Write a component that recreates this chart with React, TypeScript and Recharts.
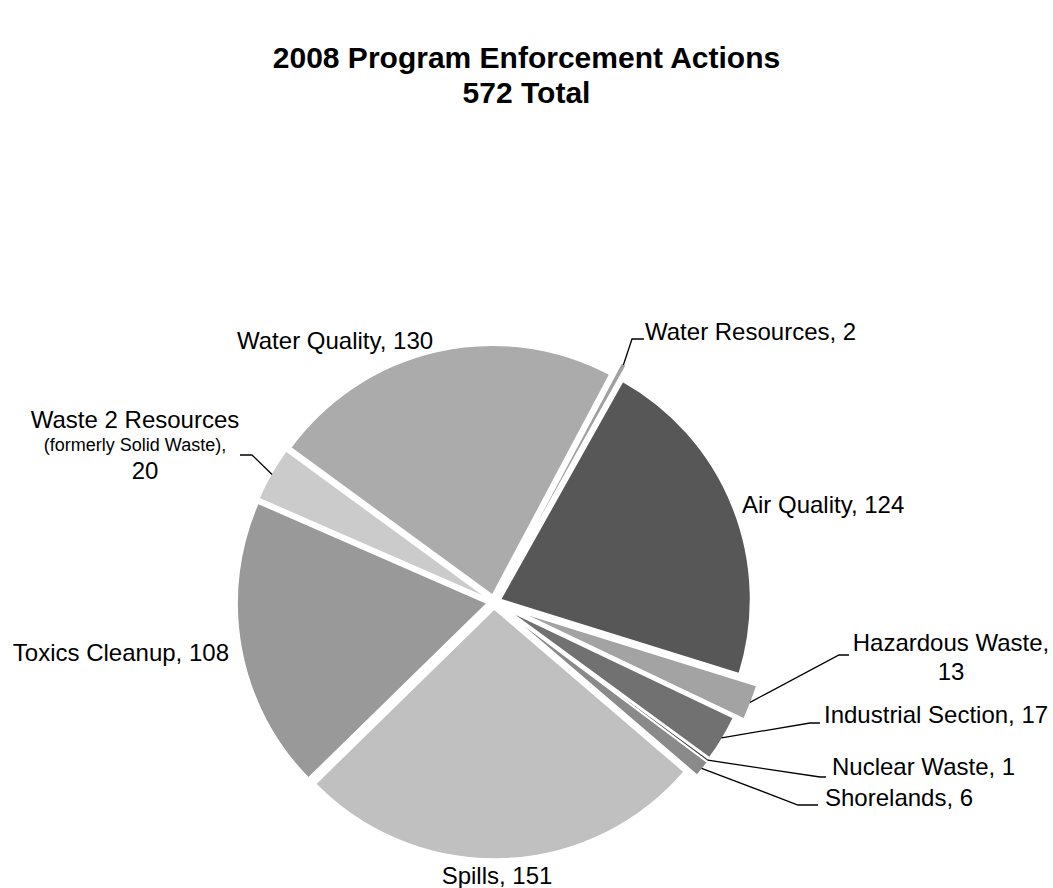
import React from 'react'
import { PieChart, Pie, Cell, Sector } from 'recharts'

const categories = [
  'Water Resources',
  'Air Quality',
  'Hazardous Waste',
  'Industrial Section',
  'Nuclear Waste',
  'Shorelands',
  'Spills',
  'Toxics Cleanup',
  'Waste 2 Resources',
  'Water Quality',
]
const actions = [2, 124, 13, 17, 1, 6, 151, 108, 20, 130]

const fills = ['#a0a0a0', '#575757', '#a3a3a3', '#717171', '#3c3c3c', '#8a8a8a', '#c0c0c0', '#999999', '#cbcbcb', '#ababab']
// how far each slice is pulled out of the pie
const explode = [21, 7, 26, 16, 17, 17, 7, 7, 7, 7]

const CX = 489
const CY = 597
const R = 250
const FONT = '"Liberation Sans", Arial, sans-serif'
const LABEL_SIZE = 24

type Line = { text: string; size?: number; dy?: number; dx?: number }
type LabelSpot = {
  lines: Line[]
  x: number // relative to pie centre
  y: number // baseline of first line
  anchor: 'start' | 'middle' | 'end'
  leader?: [number, number][]
}

// label placement, relative to the pie centre
const labelSpots: LabelSpot[] = [
  { lines: [{ text: 'Water Resources, 2' }], x: 151, y: -262, anchor: 'start', leader: [[138, -263], [150, -263]] },
  { lines: [{ text: 'Air Quality, 124' }], x: 248, y: -89, anchor: 'start' },
  {
    lines: [{ text: 'Hazardous Waste,' }, { text: '13', dy: 29 }],
    x: 457, y: 49, anchor: 'middle',
    leader: [[345, 53], [355, 53]],
  },
  { lines: [{ text: 'Industrial Section, 17' }], x: 330, y: 121, anchor: 'start', leader: [[316, 121], [326, 121]] },
  { lines: [{ text: 'Nuclear Waste, 1' }], x: 338, y: 173, anchor: 'start', leader: [[326, 175], [332, 175]] },
  { lines: [{ text: 'Shorelands, 6' }], x: 331, y: 204, anchor: 'start', leader: [[304, 203], [324, 203]] },
  { lines: [{ text: 'Spills, 151' }], x: 3, y: 282, anchor: 'middle' },
  { lines: [{ text: 'Toxics Cleanup, 108' }], x: -265, y: 59, anchor: 'end' },
  {
    lines: [
      { text: 'Waste 2 Resources' },
      { text: '(formerly Solid Waste),', size: 18, dy: 23 },
      { text: '20', dy: 28, dx: 10 },
    ],
    x: -359, y: -174, anchor: 'middle',
    leader: [[-242, -147], [-254, -147]],
  },
  { lines: [{ text: 'Water Quality, 130' }], x: -257, y: -253, anchor: 'start' },
]

const data = categories.map((name, i) => ({ name, value: actions[i] }))

const RAD = Math.PI / 180

function ExplodedSlice(props: any) {
  const i = categories.indexOf(props.name)
  const off = explode[i] ?? 0
  const dx = off * Math.cos(props.midAngle * RAD)
  const dy = -off * Math.sin(props.midAngle * RAD)
  return <Sector {...props} cx={props.cx + dx} cy={props.cy + dy} />
}

function renderLabel(props: any) {
  const { cx, cy, midAngle, outerRadius, name } = props
  const i = categories.indexOf(name)
  const spot = labelSpots[i]
  if (!spot) return null
  const rr = outerRadius + (explode[i] ?? 0) - 1
  const sx = cx + rr * Math.cos(midAngle * RAD)
  const sy = cy - rr * Math.sin(midAngle * RAD)
  const pts = spot.leader
    ? [[sx, sy], ...spot.leader.map(([px, py]) => [cx + px, cy + py])]
    : null
  let y = cy + spot.y
  return (
    <g>
      {pts && (
        <polyline
          points={pts.map((p) => p.join(',')).join(' ')}
          fill="none"
          stroke="#000"
          strokeWidth={1.3}
        />
      )}
      {spot.lines.map((ln, k) => {
        y += ln.dy ?? 0
        return (
          <text
            key={k}
            x={cx + spot.x + (ln.dx ?? 0)}
            y={y}
            textAnchor={spot.anchor}
            fontFamily={FONT}
            fontSize={ln.size ?? LABEL_SIZE}
            fill="#000"
          >
            {ln.text}
          </text>
        )
      })}
    </g>
  )
}

export default function App() {
  return (
    <div style={{ position: 'absolute', left: 0, top: 0, width: 1053, height: 888, background: '#fff' }}>
      <div
        style={{
          position: 'absolute',
          left: 0,
          top: 40,
          width: 1053,
          textAlign: 'center',
          fontFamily: FONT,
          fontWeight: 'bold',
          fontSize: 30,
          lineHeight: '35px',
          color: '#000',
        }}
      >
        2008 Program Enforcement Actions
        <br />
        572 Total
      </div>
      <PieChart width={1053} height={888}>
        <Pie
          data={data}
          dataKey="value"
          nameKey="name"
          cx={CX}
          cy={CY}
          outerRadius={R}
          startAngle={62}
          endAngle={-298}
          stroke="#fff"
          strokeWidth={1.5}
          labelLine={false}
          label={renderLabel}
          shape={ExplodedSlice}
          isAnimationActive={false}
        >
          {data.map((d, i) => (
            <Cell key={d.name} fill={fills[i]} />
          ))}
        </Pie>
      </PieChart>
    </div>
  )
}
